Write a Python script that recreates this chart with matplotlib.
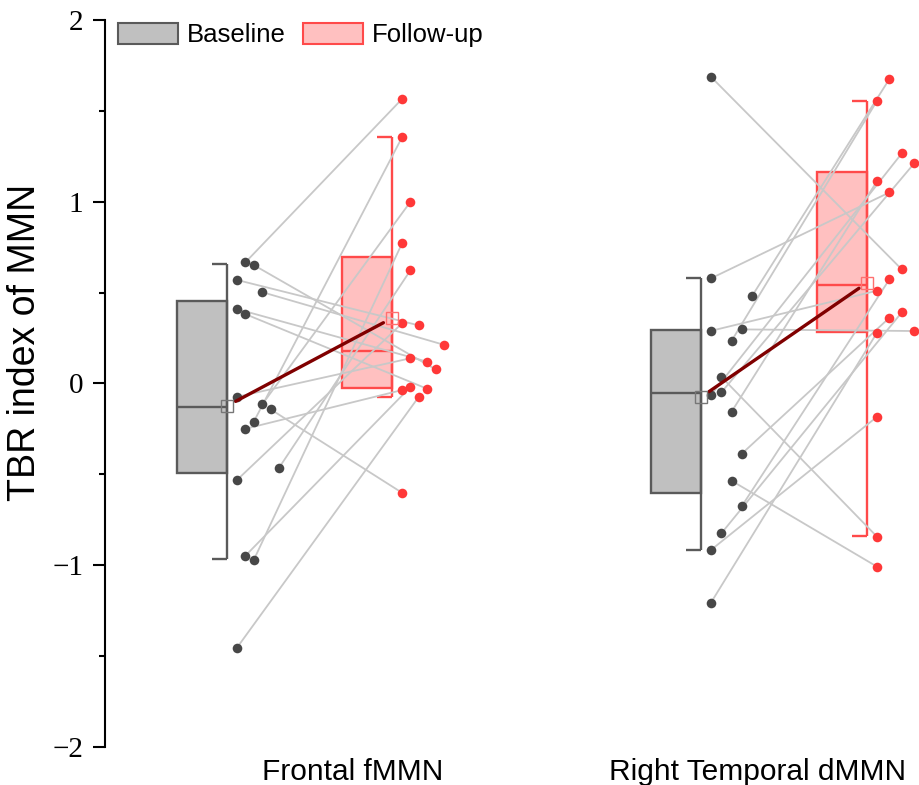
import numpy as np
import matplotlib.pyplot as plt
from matplotlib.patches import Patch
from matplotlib.ticker import MultipleLocator

# Data: TBR index of MMN per subject, baseline -> follow-up (same order)
regions = ["Frontal fMMN", "Right Temporal dMMN"]
frontal_baseline = [0.666, 0.651, 0.569, 0.502, 0.409, 0.381, -0.074, -0.116,
                    -0.143, -0.211, -0.250, -0.465, -0.532, -0.949, -0.972, -1.455]
frontal_followup = [1.565, 0.077, 0.319, 0.212, 0.119, -0.030, 0.138, 0.999,
                    -0.602, 1.354, -0.037, 0.622, 0.330, -0.020, 0.770, -0.074]
temporal_baseline = [1.687, 0.578, 0.482, 0.297, 0.289, 0.234, 0.036, -0.050,
                     -0.064, -0.156, -0.387, -0.536, -0.675, -0.826, -0.917, -1.207]
temporal_followup = [0.627, 1.051, 1.675, 0.288, 0.510, 1.555, -0.844, 1.211,
                     1.266, 1.113, 0.361, -1.009, 0.572, 0.391, -0.184, 0.279]

# box stats as drawn: q1, median, q3, whisker low, whisker high
frontal_base_box = [-0.494, -0.129, 0.455, -0.967, 0.657]
frontal_follow_box = [-0.024, 0.178, 0.697, -0.074, 1.354]
temporal_base_box = [-0.605, -0.055, 0.293, -0.917, 0.578]
temporal_follow_box = [0.284, 0.541, 1.161, -0.840, 1.555]

# jitter slot of each point
frontal_base_slot = [1, 2, 0, 3, 0, 1, 0, 3, 4, 2, 1, 5, 0, 1, 2, 0]
frontal_follow_slot = [0, 4, 2, 5, 3, 3, 1, 1, 0, 0, 0, 1, 0, 1, 0, 2]
temporal_base_slot = [0, 0, 4, 3, 0, 2, 1, 1, 0, 2, 3, 2, 3, 1, 0, 0]
temporal_follow_slot = [2, 1, 1, 3, 0, 0, 0, 3, 2, 0, 1, 0, 1, 2, 0, 0]

# colors
base_face, base_edge, base_dot = "#c0c0c0", "#5a5a5a", "#474747"
fu_face, fu_edge, fu_dot = "#ffc0c0", "#ff4a4a", "#ff3838"
pair_color = "#c8c8c8"
mean_color = "#800000"

plt.rcParams["font.family"] = ["Liberation Sans", "DejaVu Sans"]

fig = plt.figure(figsize=(9.2, 7.85), dpi=100)
ax = fig.add_axes([105 / 920, 1 - 746.7 / 785, 815 / 920, 726.7 / 785])

box_w = 0.5
cap = 0.15
lw = 1.7


def half_box(right, stats, face, edge):
    q1, med, q3, lo, hi = stats
    ax.bar(right - box_w, q3 - q1, width=box_w, bottom=q1, align="edge",
           color=face, edgecolor=edge, linewidth=lw, zorder=1)
    ax.hlines(med, right - box_w, right, color=edge, lw=lw, zorder=1)
    ax.vlines(right, lo, hi, color=edge, lw=lw, zorder=1)
    ax.hlines([lo, hi], right - cap, right, color=edge, lw=lw, zorder=1)


groups = [
    (1.22, 2.87, 0.084, 0.084, frontal_baseline, frontal_followup,
     frontal_base_box, frontal_follow_box, frontal_base_slot, frontal_follow_slot),
    (5.96, 7.62, 0.103, 0.124, temporal_baseline, temporal_followup,
     temporal_base_box, temporal_follow_box, temporal_base_slot, temporal_follow_slot),
]

for (rb, rf, step_b, step_f, yb, yf, box_b, box_f, slot_b, slot_f) in groups:
    half_box(rb, box_b, base_face, base_edge)
    half_box(rf, box_f, fu_face, fu_edge)

    xb = rb + 0.10 + step_b * np.array(slot_b)
    xf = rf + 0.10 + step_f * np.array(slot_f)
    for x0, x1, y0, y1 in zip(xb, xf, yb, yf):
        ax.plot([x0, x1], [y0, y1], color=pair_color, lw=1.3, zorder=2)
    ax.scatter(xb, yb, s=48, color=base_dot, zorder=3, linewidths=0)
    ax.scatter(xf, yf, s=48, color=fu_dot, zorder=3, linewidths=0, clip_on=False)

    mb, mf = np.mean(yb), np.mean(yf)
    ax.annotate("", xy=(rf, mf), xytext=(rb, mb),
                arrowprops=dict(arrowstyle="-", color=mean_color, lw=2.4,
                                shrinkA=7, shrinkB=7), zorder=4)
    ax.plot(rb, mb, marker="s", ms=9, mfc="none", mec="#777777", mew=1.0, zorder=5)
    ax.plot(rf, mf, marker="s", ms=9, mfc="none", mec="#ff7070", mew=1.0, zorder=5)

ax.set_xlim(0, 8.15)
ax.set_ylim(-2, 2)
ax.set_yticks([-2, -1, 0, 1, 2])
ax.yaxis.set_minor_locator(MultipleLocator(0.5))
ax.tick_params(axis="y", which="major", length=8.5, width=1.5, pad=7,
               labelsize=21, labelfontfamily="Liberation Serif")
ax.tick_params(axis="y", which="minor", length=4.5, width=1.5)
ax.set_xticks([2.48, 6.53])
ax.set_xticklabels(regions, fontsize=21.5)
ax.tick_params(axis="x", length=0, pad=8)

for s in ["top", "right", "bottom"]:
    ax.spines[s].set_visible(False)
ax.spines["left"].set_linewidth(1.5)

ax.set_ylabel("TBR index of MMN", fontsize=27)
ax.yaxis.set_label_coords(-0.076, 0.556)

handles = [Patch(facecolor=base_face, edgecolor=base_edge, linewidth=1.5, label="Baseline"),
           Patch(facecolor=fu_face, edgecolor=fu_edge, linewidth=1.5, label="Follow-up")]
fig.legend(handles=handles, loc="center left", bbox_to_anchor=(118 / 920, 1 - 35 / 785),
           ncol=2, frameon=False, fontsize=18.5, borderpad=0, borderaxespad=0,
           handlelength=2.33, handleheight=0.93, handletextpad=0.35, columnspacing=0.66)

fig.savefig("out.png", dpi=100)
